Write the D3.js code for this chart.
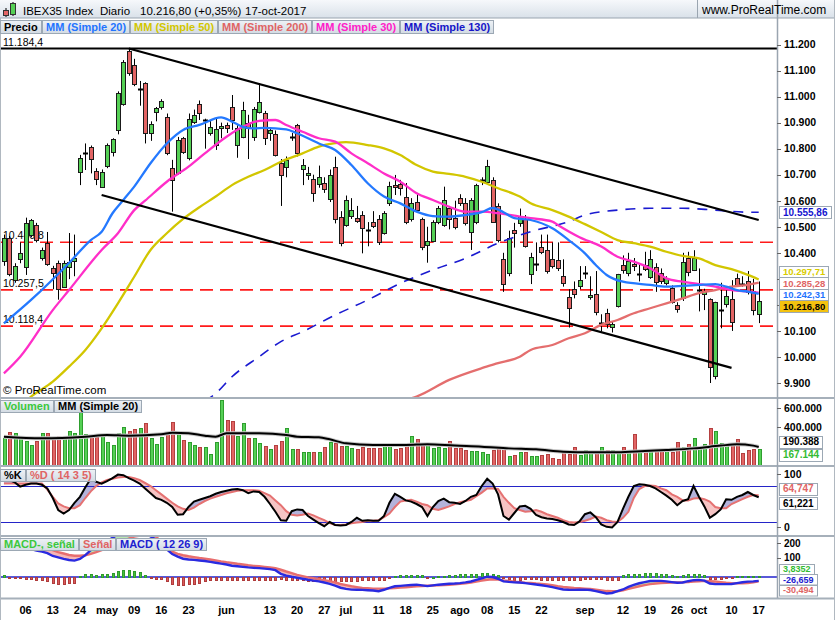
<!DOCTYPE html>
<html>
<head>
<meta charset="utf-8">
<script src="https://cdnjs.cloudflare.com/ajax/libs/d3/7.8.5/d3.min.js"></script>
<style>
html,body{margin:0;padding:0;background:#fff;}
svg{display:block;font-family:"Liberation Sans",Arial,Helvetica,sans-serif;}
</style>
</head>
<body>
<svg id="chart" width="835" height="620"></svg>
<script>
// ================= DATA =================
const firstDay = "2017-03-31", lastDay = "2017-10-17";
const holidays = ["2017-04-14", "2017-04-17", "2017-05-01"];
const anchorDay = "2017-04-06"; // day offset 0 for the sampled line series

const open = [
 10370,10455,10295,10375,10345,10470,10505,10380,10437,10343,10360,10268,10347,10370,
 10712,10780,10808,10715,10654,10733,10788,10872,10971,11176,
 11121,11029,11051,10859,10940,10959,10923,10725,10708,10840,
 10763,10904,10971,10905,10861,10814,10880,10891,10959,10814,
 10846,10900,10844,10942,10936,10860,10856,10746,10728,10842,
 10891,10721,10700,10682,10664,10670,10606,10731,10539,10507,
 10541,10534,10545,10490,10520,10529,10477,10590,10660,10664,
 10616,10529,10594,10529,10430,10447,10520,10507,10571,10533,
 10610,10590,10481,10520,10675,10673,10680,10578,10375,10324,
 10488,10515,10529,10318,10355,10421,10411,10375,10372,10311,
 10232,10260,10273,10322,10229,10241,10125,10170,10114,10196,
 10353,10324,10357,10319,10353,10308,10345,10324,10283,10264,
 10200,10225,10379,10334,10255,10240,10222,9927,10175,10204,
 10222,10302,10285,10293,10254,10165];
const high = [
 10470,10465,10360,10440,10535,10530,10515,10420,10480,10350,10370,10370,10476,10470,
 10776,10820,10812,10725,10720,10820,10840,11020,11140,11184.4,
 11145,11060,11055,10905,10960,10990,10935,10757,10845,10845,
 10935,10950,10985,10915,10910,10920,10900,10900,11006,10890,
 10980,10930,10960,11051,10945,10880,10870,10760,10770,10860,
 10895,10760,10730,10700,10735,10690,10720,10769,10560,10620,
 10610,10580,10560,10518,10560,10545,10560,10673,10699,10680,
 10668,10610,10630,10535,10500,10525,10580,10654,10580,10600,
 10625,10610,10610,10665,10690,10757,10690,10590,10400,10485,
 10515,10570,10545,10400,10440,10470,10470,10440,10440,10375,
 10260,10290,10349,10349,10310,10330,10164,10185,10135,10319,
 10390,10400,10380,10360,10404,10410,10360,10340,10310,10275,
 10210,10400,10404,10410,10340,10262,10225,10212,10285,10260,
 10295,10320,10310,10330,10300,10290];
const low = [
 10350,10310,10285,10360,10315,10460,10440,10370,10350,10260,10220,10265,10299,10310,
 10660,10718,10705,10660,10650,10725,10770,10855,10965,11080,
 11040,10965,10820,10830,10905,10950,10775,10558,10700,10780,
 10755,10895,10910,10800,10850,10795,10840,10860,10872,10765,
 10840,10760,10830,10935,10814,10830,10770,10580,10690,10830,
 10770,10660,10680,10596,10650,10630,10595,10513,10425,10500,
 10530,10515,10398,10425,10495,10430,10470,10580,10622,10620,
 10510,10520,10555,10410,10362,10440,10510,10500,10490,10490,
 10580,10505,10411,10510,10660,10665,10515,10440,10250,10310,
 10420,10500,10420,10280,10330,10395,10320,10340,10330,10270,
 10113,10225,10260,10300,10220,10160,10098,10110,10094,10190,
 10320,10310,10330,10290,10330,10300,10250,10280,10275,10205,
 10170,10215,10310,10330,10175,10180,9900,9914,10110,10190,
 10100,10270,10270,10240,10160,10130];
const close = [
 10455,10320,10350,10400,10515,10525,10450,10410,10357,10321,10260,10362,10366,10380,
 10763,10784,10759,10682,10712,10814,10836,11013,11134,11092,
 11047,11031,10859,10894,10955,10983,10782,10680,10833,10788,
 10913,10929,10936,10909,10882,10874,10886,10878,10910,10878,
 10948,10880,10951,10980,10840,10870,10776,10699,10756,10846,
 10782,10737,10708,10629,10692,10644,10699,10529,10439,10603,
 10565,10523,10494,10488,10503,10443,10554,10657,10652,10648,
 10520,10591,10564,10421,10446,10520,10571,10601,10530,10498,
 10590,10513,10603,10660,10678,10734,10520,10449,10280,10456,
 10477,10541,10426,10383,10358,10404,10331,10349,10340,10283,
 10187,10242,10296,10324,10238,10174,10130,10127,10127,10319,
 10334,10369,10349,10320,10337,10375,10289,10293,10302,10212,
 10183,10364,10328,10379,10256,10252,9960,10212,10180,10234,
 10135,10277,10280,10251,10181,10216.8];
// volume in thousands
const volume = [
 281,351,333,281,253,211,253,333,333,281,305,281,358,340,561,
 323,298,298,323,246,211,333,396,358,375,386,438,281,218,298,333,449,323,263,246,211,193,193,112,239,
 684,474,463,309,438,288,281,228,204,165,211,253,386,165,165,140,140,133,133,193,246,235,200,200,175,168,193,
 175,175,175,211,211,168,175,211,305,270,
 228,211,175,193,175,253,175,175,158,147,
 147,133,112,158,175,168,98,105,140,140,
 98,98,105,112,77,63,158,112,193,105,
 158,123,147,193,158,158,133,186,147,323,
 147,147,158,165,147,158,133,239,193,218,
 281,175,218,386,358,228,218,211,274,123,
 158,168,167.144];
// sampled lines: [day offset from anchorDay, value]
const volumeMA20 = [[-4,298],[3,281],[11,298],[15,316],[19,309],[25,323],[27,340],[30,333],[33,309],[35,298],[37,333],[43,333],[48,316],[50,298],[54,291],[56,270],[59,228],[64,211],[70,211],[74,218],[79,204],[84,193],[89,175],[94,165],[99,140],[104,133],[109,133],[114,147],[118,158],[123,175],[128,204],[131,218],[134,204],[135,190.388]];
const ma20 = [[-4,10129],[1,10219],[8,10361],[12,10449],[14,10481],[16,10552],[18,10603],[20,10654],[23,10744],[26,10820],[29,10872],[32,10891],[36,10920],[38,10904],[40,10884],[42,10878],[44,10880],[48,10874],[50,10859],[54,10820],[57,10795],[60,10737],[63,10667],[66,10616],[69,10590],[72,10558],[75,10541],[78,10539],[81,10545],[84,10556],[86,10572],[88,10556],[90,10533],[93,10526],[97,10494],[100,10449],[103,10398],[105,10353],[107,10315],[110,10289],[115,10277],[118,10270],[121,10273],[124,10277],[127,10280],[129,10270],[131,10257],[133,10251],[135,10242.31]];
const ma30 = [[-4,9937],[-1,10001],[5,10180],[8,10257],[14,10411],[17,10475],[20,10564],[22,10600],[26,10673],[30,10731],[33,10782],[37,10846],[40,10884],[43,10907],[46,10910],[48,10891],[51,10865],[54,10840],[57,10827],[60,10782],[63,10744],[66,10705],[69,10673],[72,10629],[75,10603],[78,10577],[81,10558],[84,10558],[87,10552],[91,10539],[93,10533],[97,10520],[98,10507],[102,10460],[106,10424],[109,10385],[112,10366],[115,10341],[118,10302],[121,10289],[124,10280],[127,10270],[130,10257],[133,10251],[135,10247]];
const ma50 = [[-4,9750],[1,9848],[5,9905],[8,9963],[11,10027],[14,10110],[17,10206],[20,10308],[23,10411],[26,10475],[29,10530],[32,10575],[35,10616],[38,10660],[41,10692],[44,10718],[47,10750],[51,10782],[54,10808],[57,10821],[59,10825],[63,10814],[66,10801],[69,10776],[72,10737],[75,10712],[78,10703],[81,10692],[84,10673],[87,10648],[91,10616],[93,10590],[97,10564],[100,10539],[103,10510],[106,10480],[109,10449],[112,10437],[115,10424],[118,10404],[121,10388],[124,10379],[127,10353],[130,10337],[133,10315],[135,10297.71]];
const ma200 = [[70,9835],[72,9848],[78,9912],[84,9957],[87,9976],[91,10001],[93,10027],[97,10046],[100,10072],[103,10091],[106,10123],[109,10142],[112,10168],[115,10187],[118,10206],[121,10225],[124,10245],[127,10257],[130,10270],[133,10277],[135,10285.28]];
const ma130 = [[33,9830],[35,9860],[38,9924],[43,10001],[47,10059],[51,10097],[57,10161],[63,10219],[69,10283],[75,10334],[81,10379],[87,10437],[93,10481],[100,10520],[103,10545],[109,10564],[115,10571],[121,10571],[127,10564],[133,10556],[135,10555.86]];
const stochK = [
 95,90,86,79,82,84,84,82,76,60,
 40,34,40,52,62,78,92,87,84,88,
 93,99,98,93,89,84,76,68,60,57,
 52,45,32,33,45,54,57,60,63,67,
 70,72,74,75,73,68,71,70,62,50,
 37,23,22,38,41,40,30,24,18,13,
 20,15,14,15,20,27,22,23,22,22,
 30,52,67,62,56,54,50,45,30,45,
 55,59,53,52,50,55,62,65,80,92,
 84,66,30,24,35,46,47,42,32,28,
 26,25,23,20,16,15,21,33,36,28,
 16,12,11,20,42,62,80,83,82,80,
 76,70,64,57,48,55,58,80,62,46,
 27,33,41,58,57,62,65,70,65,61.221];
const stochD = [
 84,84,84,84,84,84,84,84,74,62,
 51,46,43,43,48,60,71,80,86,90,
 92,94,95,95,93,90,85,80,73,66,
 59,52,46,42,40,44,50,55,59,62,
 65,68,70,72,73,73,73,72,68,64,
 56,48,38,32,31,32,34,31,27,23,
 18,15,15,16,18,19,20,22,22,23,
 28,34,45,54,56,57,54,50,48,42,
 40,43,46,50,53,55,57,63,69,76,
 76,75,62,52,43,40,37,38,40,37,
 33,30,27,23,20,19,20,22,25,29,
 27,23,21,20,27,37,60,75,80,81,
 80,76,73,66,62,56,56,59,60,58,
 54,45,43,43,50,54,58,62,65,64.747];
const macdLine = [
 228,210,204,200,196,192,183,175,165,145,
 135,125,117,113,124,151,185,210,230,250,
 270,295,318,330,328,318,300,280,258,225,
 190,158,140,126,121,118,114,110,104,98,
 92,86,78,74,70,66,63,61,58,54,
 47,22,10,2,-5,-12,-19,-25,-30,-38,
 -47,-60,-74,-82,-87,-88,-89,-91,-93,-98,
 -88,-75,-64,-61,-58,-55,-53,-58,-63,-58,
 -53,-50,-47,-45,-42,-37,-31,-20,-9,2,
 0,-12,-30,-34,-37,-38,-42,-47,-52,-57,
 -63,-70,-78,-86,-88,-89,-88,-87,-90,-97,
 -105,-114,-110,-98,-86,-68,-55,-43,-35,-28,
 -27,-27,-30,-35,-40,-38,-29,-22,-20,-25,
 -45,-49,-49,-49,-48,-42,-36,-32,-30,-26.659];
const macdSignal = [
 212,213,211,209,207,204,201,199,195,186,
 172,162,152,147,147,150,160,172,185,200,
 215,232,250,265,278,285,288,287,280,240,
 198,175,160,150,143,137,131,126,121,115,
 108,102,97,91,86,81,77,74,70,66,
 60,50,38,27,15,6,-3,-9,-15,-22,
 -29,-38,-48,-56,-64,-70,-76,-78,-80,-80,
 -80,-78,-76,-73,-71,-67,-64,-62,-60,-59,
 -58,-56,-53,-50,-47,-43,-38,-31,-24,-19,
 -16,-18,-24,-28,-33,-36,-39,-41,-45,-48,
 -52,-57,-63,-68,-72,-76,-78,-80,-83,-87,
 -92,-97,-98,-98,-92,-82,-73,-64,-56,-49,
 -45,-42,-40,-38,-37,-36,-34,-31,-29,-27,
 -29,-31,-35,-40,-43,-44,-43,-42,-36,-30.494];
const macdHist = [
 16,-5,-7,-9,-11,-11,-18,-24,-29,-40,
 -47,-47,-42,-40,5,18,18,13,18,18,
 27,38,49,49,42,33,11,-9,-13,-15,
 -29,-51,-56,-56,-51,-47,-40,-31,-24,-22,
 -20,-18,-20,-24,-22,-20,-22,-22,-20,-20,
 -20,-13,-24,-24,-22,-24,-27,-31,-31,-31,
 -31,-31,-31,-31,-31,-27,-22,-22,-24,-24,
 -20,-9,9,13,13,13,13,13,-3,2,
 9,9,13,13,18,18,20,24,29,31,
 24,13,-9,-15,-20,-18,-15,-13,-15,-18,
 -20,-20,-20,-22,-24,-22,-20,-13,-13,-15,
 -15,-20,-20,-20,13,18,22,24,29,29,
 29,24,20,13,9,13,18,20,18,13,
 -13,-15,-13,-9,-9,9,9,9,9,3.8352];

const supportLevels = [10440.8, 10257.5, 10118.4];
const topLevel = 11184.4;
const channel = [
  {d1: "2017-05-08", p1: 11184.4, d2: "2017-10-17", p2: 10526},
  {d1: "2017-04-28", p1: 10622, d2: "2017-10-10", p2: 9958}
];
const priceTicks = [9900,10000,10100,10200,10300,10400,10500,10600,10700,10800,10900,11000,11100,11200];
const volumeTicks = [400, 600];
const stochTicks = [0, 100];
const stochBands = [20, 80];
const macdTicks = [100, 200];
const tickDates = ["2017-04-06","2017-04-13","2017-04-24","2017-05-02","2017-05-09","2017-05-16","2017-05-23","2017-06-01","2017-06-13","2017-06-20","2017-06-27","2017-07-03","2017-07-11","2017-07-18","2017-07-25","2017-08-01","2017-08-08","2017-08-15","2017-08-22","2017-09-01","2017-09-12","2017-09-19","2017-09-26","2017-10-02","2017-10-10","2017-10-17"];
const tickLabels = ["06","13","24","may","09","16","23","jun","13","20","27","jul","11","18","25","ago","08","15","22","sep","12","19","26","oct","10","17"];
const headerTexts = ["IBEX35 Index", "Diario", "10.216,80 (+0,35%)", "17-oct-2017"];
const priceLegend = [["Precio","#000"],["MM (Simple 20)","#1f74ff"],["MM (Simple 50)","#d2c600"],["MM (Simple 200)","#e06464"],["MM (Simple 30)","#ff20c8"],["MM (Simple 130)","#1515c8"]];
const volLegend = [["Volumen","#3cc83c"],["MM (Simple 20)","#000"]];
const stochLegend = [["%K","#000"],["%D ( 14 3 5)","#e06464"]];
const macdLegend = [["MACD-, señal","#3cc83c"],["Señal","#e06464"],["MACD ( 12 26 9)","#2020d0"]];

// ================= BUILD =================
const dates = [];
{
  const d = new Date(firstDay + "T12:00:00Z"), end = new Date(lastDay + "T12:00:00Z");
  while (d <= end) {
    const s = d.toISOString().slice(0, 10), wd = d.getUTCDay();
    if (wd > 0 && wd < 6 && !holidays.includes(s)) dates.push(s);
    d.setUTCDate(d.getUTCDate() + 1);
  }
}
const k0 = dates.indexOf(anchorDay);
const bars = dates.map((d, k) => ({d, o: open[k], h: high[k], l: low[k], c: close[k], v: volume[k],
  K: stochK[k], D: stochD[k], m: macdLine[k], s: macdSignal[k], hist: macdHist[k]}));
const samp = arr => arr.map(([i, v]) => ({d: dates[k0 + i], v}));

const loc = d3.formatLocale({decimal: ",", thousands: ".", grouping: [3], currency: ["", ""], minus: "-"});
const f0 = loc.format(",.0f"), f1 = loc.format(",.1f"), f2 = loc.format(",.2f"), f3 = loc.format(",.3f"), f4 = loc.format(",.4f");

const W = 835, H = 620, AX = 777;
const P = {price: [18, 397], vol: [399, 465], sto: [467, 535], macd: [537, 598]};

const svg = d3.select("#chart");
const defs = svg.append("defs");
const hg = defs.append("linearGradient").attr("id", "hdr").attr("x1", 0).attr("x2", 0).attr("y1", 0).attr("y2", 1);
hg.append("stop").attr("offset", "0%").attr("stop-color", "#f6f8fb");
hg.append("stop").attr("offset", "100%").attr("stop-color", "#d9e1e9");
const lg = defs.append("linearGradient").attr("id", "leg").attr("x1", 0).attr("x2", 0).attr("y1", 0).attr("y2", 1);
lg.append("stop").attr("offset", "0%").attr("stop-color", "#eef2f6");
lg.append("stop").attr("offset", "100%").attr("stop-color", "#d3dbe3");
Object.entries(P).forEach(([k, [t, b]]) => {
  defs.append("clipPath").attr("id", "clip-" + k).append("rect").attr("x", 0).attr("y", t).attr("width", AX).attr("height", b - t);
});

svg.append("rect").attr("width", W).attr("height", H).attr("fill", "#fff");

const x = d3.scalePoint().domain(dates).range([3.9, 758.7]);
const cx = d => Math.round(x(d));
const yP = d3.scaleLinear().domain([9900, 11200]).range([383, 44.5]);
const yV = d3.scaleLinear().domain([0, 600]).range([465, 408]);
const yS = d3.scaleLinear().domain([0, 100]).range([534, 474]);
const yM = d3.scaleLinear().domain([0, 100]).range([577, 562.5]);

const GREEN = "#55d055", RED = "#e26464";

// ---------- PRICE PANE ----------
const gp = svg.append("g").attr("clip-path", "url(#clip-price)");
gp.selectAll("line.lvl").data(supportLevels).join("line")
  .attr("x1", 0).attr("x2", AX).attr("y1", d => yP(d)).attr("y2", d => yP(d))
  .attr("stroke", "#ff1a1a").attr("stroke-width", 1.6).attr("stroke-dasharray", "13,7");
gp.append("line").attr("x1", 0).attr("x2", AX).attr("y1", yP(topLevel)).attr("y2", yP(topLevel))
  .attr("stroke", "#000").attr("stroke-width", 2);
gp.selectAll("text.lvl").data(supportLevels.concat([topLevel])).join("text")
  .attr("x", 3).attr("y", d => yP(d) - 3).attr("font-size", 10.5).attr("fill", "#000").text(d => f1(d));

const cg = gp.append("g");
cg.selectAll("line.wick").data(bars).join("line")
  .attr("x1", d => cx(d.d) + 0.5).attr("x2", d => cx(d.d) + 0.5)
  .attr("y1", d => yP(d.h)).attr("y2", d => yP(d.l)).attr("stroke", "#000").attr("stroke-width", 1);
const bodies = bars.filter(b => Math.abs(b.c - b.o) >= 6);
const dojis = bars.filter(b => Math.abs(b.c - b.o) < 6);
cg.selectAll("rect.body").data(bodies).join("rect")
  .attr("x", d => cx(d.d) - 1.5).attr("width", 4)
  .attr("y", d => Math.round(yP(Math.max(d.o, d.c))) + 0.5)
  .attr("height", d => Math.max(1, Math.round(yP(Math.min(d.o, d.c))) - Math.round(yP(Math.max(d.o, d.c)))))
  .attr("fill", d => d.c >= d.o ? GREEN : RED).attr("stroke", "#1a1a1a").attr("stroke-width", 1);
cg.selectAll("line.doji").data(dojis).join("line")
  .attr("x1", d => cx(d.d) - 2).attr("x2", d => cx(d.d) + 3)
  .attr("y1", d => Math.round(yP(d.c)) + 0.5).attr("y2", d => Math.round(yP(d.c)) + 0.5)
  .attr("stroke", "#000").attr("stroke-width", 2);

const maLine = d3.line().x(d => x(d.d)).y(d => yP(d.v)).curve(d3.curveMonotoneX);
[[ma200, "#e46e6e", null], [ma130, "#1a1ad0", "10,8"], [ma50, "#d2c600", null], [ma30, "#ff2ec8", null], [ma20, "#2479ff", null]]
  .forEach(([s, c, dash]) => {
    gp.append("path").datum(samp(s)).attr("d", maLine).attr("fill", "none").attr("stroke", c)
      .attr("stroke-width", dash ? 1.6 : 2.3).attr("stroke-dasharray", dash);
  });
gp.selectAll("line.ch").data(channel).join("line")
  .attr("x1", d => x(d.d1)).attr("y1", d => yP(d.p1)).attr("x2", d => x(d.d2)).attr("y2", d => yP(d.p2))
  .attr("stroke", "#000").attr("stroke-width", 2.2);
gp.append("text").attr("x", 3).attr("y", 394).attr("font-size", 11.5).attr("fill", "#000").text("© ProRealTime.com");

// ---------- VOLUME PANE ----------
const gv = svg.append("g").attr("clip-path", "url(#clip-vol)");
gv.selectAll("rect").data(bars).join("rect")
  .attr("x", d => cx(d.d) - 0.5).attr("width", 3)
  .attr("y", d => Math.round(yV(d.v)) + 0.5).attr("height", d => 465 - Math.round(yV(d.v)))
  .attr("fill", d => d.c >= d.o ? GREEN : RED)
  .attr("stroke", d => d.c >= d.o ? "#2e9e2e" : "#b44040").attr("stroke-width", 1);
const volLine = d3.line().x(d => x(d.d)).y(d => yV(d.v)).curve(d3.curveMonotoneX);
gv.append("path").datum(samp(volumeMA20)).attr("d", volLine).attr("fill", "none").attr("stroke", "#c8c8c8").attr("stroke-width", 4);
gv.append("path").datum(samp(volumeMA20)).attr("d", volLine).attr("fill", "none").attr("stroke", "#000").attr("stroke-width", 2);

// ---------- STOCHASTIC PANE ----------
const gs = svg.append("g").attr("clip-path", "url(#clip-sto)");
const areaKD = d3.area().x(d => x(d.d)).y0(d => yS(d.D)).y1(d => yS(d.K));
defs.append("clipPath").attr("id", "belowK").append("path").datum(bars)
  .attr("d", d3.area().x(d => x(d.d)).y0(P.sto[1]).y1(d => yS(d.K)));
defs.append("clipPath").attr("id", "aboveK").append("path").datum(bars)
  .attr("d", d3.area().x(d => x(d.d)).y0(P.sto[0]).y1(d => yS(d.K)));
gs.append("path").datum(bars).attr("d", areaKD).attr("fill", "#b3b3db").attr("clip-path", "url(#belowK)");
gs.append("path").datum(bars).attr("d", areaKD).attr("fill", "#f6c4c4").attr("clip-path", "url(#aboveK)");
gs.selectAll("line.band").data(stochBands).join("line")
  .attr("x1", 0).attr("x2", AX).attr("y1", d => Math.round(yS(d)) + 0.5).attr("y2", d => Math.round(yS(d)) + 0.5)
  .attr("stroke", "#2424c8").attr("stroke-width", 1.2);
gs.append("path").datum(bars).attr("d", d3.line().x(d => x(d.d)).y(d => yS(d.D)))
  .attr("fill", "none").attr("stroke", "#e57272").attr("stroke-width", 2);
gs.append("path").datum(bars).attr("d", d3.line().x(d => x(d.d)).y(d => yS(d.K)))
  .attr("fill", "none").attr("stroke", "#000").attr("stroke-width", 2);

// ---------- MACD PANE ----------
const gm = svg.append("g").attr("clip-path", "url(#clip-macd)");
gm.append("line").attr("x1", 0).attr("x2", AX).attr("y1", yM(0)).attr("y2", yM(0)).attr("stroke", "#2222cc").attr("stroke-width", 1.6);
gm.selectAll("rect.h").data(bars).join("rect")
  .attr("x", d => cx(d.d) - 0.5).attr("width", 2)
  .attr("y", d => Math.round(Math.min(yM(d.hist), yM(0))) + 0.5)
  .attr("height", d => Math.max(1, Math.round(Math.abs(yM(d.hist) - yM(0)))))
  .attr("fill", d => d.hist >= 0 ? "#46c03c" : "#dc5a5a")
  .attr("stroke", d => d.hist >= 0 ? "#2e9a2e" : "#b03c3c").attr("stroke-width", 1);
const areaMS = d3.area().x(d => x(d.d)).y0(d => yM(d.s)).y1(d => yM(d.m));
defs.append("clipPath").attr("id", "belowM").append("path").datum(bars)
  .attr("d", d3.area().x(d => x(d.d)).y0(700).y1(d => yM(d.m)));
defs.append("clipPath").attr("id", "aboveM").append("path").datum(bars)
  .attr("d", d3.area().x(d => x(d.d)).y0(-100).y1(d => yM(d.m)));
gm.append("path").datum(bars).attr("d", areaMS).attr("fill", "#b9eab0").attr("clip-path", "url(#belowM)");
gm.append("path").datum(bars).attr("d", areaMS).attr("fill", "#f5b6b6").attr("clip-path", "url(#aboveM)");
gm.append("path").datum(bars).attr("d", d3.line().x(d => x(d.d)).y(d => yM(d.s)))
  .attr("fill", "none").attr("stroke", "#e86e6e").attr("stroke-width", 2.4);
gm.append("path").datum(bars).attr("d", d3.line().x(d => x(d.d)).y(d => yM(d.m)))
  .attr("fill", "none").attr("stroke", "#2a2ae0").attr("stroke-width", 2.4);

// ---------- FRAME ----------
svg.append("rect").attr("x", 0).attr("y", 0).attr("width", W).attr("height", 18).attr("fill", "url(#hdr)");
svg.append("line").attr("x1", 0).attr("x2", W).attr("y1", 18).attr("y2", 18).attr("stroke", "#9aa5b0");
[P.price[1] + 1, P.vol[1] + 1, P.sto[1] + 1, P.macd[1] + 0.5].forEach(y =>
  svg.append("line").attr("x1", 0).attr("x2", W).attr("y1", y).attr("y2", y).attr("stroke", "#a6b0ba").attr("stroke-width", 2));
svg.append("line").attr("x1", AX + 0.5).attr("x2", AX + 0.5).attr("y1", 0).attr("y2", 598).attr("stroke", "#9aa5b0").attr("stroke-width", 1.5);
svg.append("line").attr("x1", 0.5).attr("x2", 0.5).attr("y1", 18).attr("y2", 620).attr("stroke", "#b0b8c0");
svg.append("line").attr("x1", W - 0.5).attr("x2", W - 0.5).attr("y1", 0).attr("y2", 620).attr("stroke", "#b0b8c0");

const ic = svg.append("g");
ic.append("line").attr("x1", 6).attr("x2", 6).attr("y1", 8).attr("y2", 17).attr("stroke", "#000");
ic.append("rect").attr("x", 3.5).attr("y", 10.5).attr("width", 5).attr("height", 5).attr("fill", RED).attr("stroke", "#333");
ic.append("line").attr("x1", 13).attr("x2", 13).attr("y1", 2).attr("y2", 16).attr("stroke", "#000");
ic.append("rect").attr("x", 10.5).attr("y", 3.5).attr("width", 5).attr("height", 11).attr("fill", GREEN).attr("stroke", "#333");
[23, 100, 140, 245].forEach((hx, j) =>
  svg.append("text").attr("x", hx).attr("y", 14.5).attr("font-size", 11.5).attr("fill", "#000").text(headerTexts[j]));
svg.append("line").attr("x1", 697.5).attr("x2", 697.5).attr("y1", 0).attr("y2", 18).attr("stroke", "#9aa5b0");
svg.append("text").attr("x", 702).attr("y", 13.5).attr("font-size", 12).attr("fill", "#000").text("www.ProRealTime.com");

function legend(y, items, h) {
  let lx = 0.5;
  items.forEach(([t, c]) => {
    const g = svg.append("g");
    const r = g.append("rect").attr("x", lx).attr("y", y + 0.5).attr("height", h).attr("fill", "url(#leg)").attr("stroke", "#9ca8b4");
    const tx = g.append("text").attr("x", lx + 3.5).attr("y", y + h - 2).attr("font-size", 11).attr("font-weight", "bold").attr("fill", c).text(t);
    const w = Math.round(tx.node().getComputedTextLength() + 7);
    r.attr("width", w);
    lx += w + 1;
  });
}
legend(20, priceLegend, 13);
legend(400, volLegend, 12);
legend(469, stochLegend, 12);
legend(538, macdLegend, 12);

// ---------- RIGHT AXES & LAST-VALUE BOXES ----------
const boxGroups = [];
function layoutBoxes(items, spacing, boxH, fs) {
  items.sort((a, b) => a.y - b.y);
  for (let it = 0; it < 200; it++) {
    for (let j = 1; j < items.length; j++) {
      const gap = items[j].y - items[j - 1].y;
      if (gap < spacing) { const dd = (spacing - gap) / 2; items[j].y += dd; items[j - 1].y -= dd; }
    }
  }
  items.forEach(it => { it.boxH = boxH; it.fs = fs; });
  boxGroups.push(...items);
}
const lastV = a => a[a.length - 1][1];
layoutBoxes([{y: yP(lastV(ma130)), t: f2(lastV(ma130)), c: "#1515d0"}], 10, 12, 10);
layoutBoxes([
  {y: yP(lastV(ma50)), t: f2(lastV(ma50)), c: "#d8cc00"},
  {y: yP(lastV(ma200)), t: f2(lastV(ma200)), c: "#e06464"},
  {y: yP(lastV(ma20)), t: f2(lastV(ma20)), c: "#1f74ff"},
  {y: yP(close[close.length - 1]), t: f2(close[close.length - 1]), c: "#000", fill: "#f4c20f"}
], 11.5, 12, 9.5);
layoutBoxes([
  {y: yV(lastV(volumeMA20)), t: f0(lastV(volumeMA20) * 1000), c: "#000"},
  {y: yV(volume[volume.length - 1]), t: f0(volume[volume.length - 1] * 1000), c: "#33bb33"}
], 13, 12, 10);
layoutBoxes([
  {y: yS(stochD[stochD.length - 1]), t: f3(stochD[stochD.length - 1]), c: "#e06464"},
  {y: yS(stochK[stochK.length - 1]), t: f3(stochK[stochK.length - 1]), c: "#000"}
], 14.5, 12, 10);
layoutBoxes([
  {y: yM(macdHist[macdHist.length - 1]), t: f4(macdHist[macdHist.length - 1]), c: "#33bb33"},
  {y: yM(macdLine[macdLine.length - 1]), t: f3(macdLine[macdLine.length - 1]), c: "#2020d0"},
  {y: yM(macdSignal[macdSignal.length - 1]), t: f3(macdSignal[macdSignal.length - 1]), c: "#e06464"}
], 10.5, 10.5, 9);

const axG = svg.append("g").attr("font-weight", "bold").attr("font-size", 10.5).attr("fill", "#000");
function ticks(vals, sc, fmt, fs) {
  vals.forEach(v => {
    const yy = sc(v);
    axG.append("line").attr("x1", AX).attr("x2", AX + 4).attr("y1", Math.round(yy) + 0.5).attr("y2", Math.round(yy) + 0.5).attr("stroke", "#666");
    const covered = boxGroups.some(b => Math.abs(b.y - yy) < b.boxH / 2 + 2);
    if (!covered) axG.append("text").attr("x", 784).attr("y", yy).attr("dy", "0.36em").attr("font-size", fs || 10.5).text(fmt(v));
  });
}
ticks(priceTicks, yP, f0);
ticks(volumeTicks, v => yV(v), v => f0(v * 1000));
ticks(stochTicks, v => v === 0 ? 527 : yS(v), f0);
ticks(macdTicks, v => yM(v) - 5, f0, 10);

boxGroups.forEach(it => {
  const g = svg.append("g");
  const r = g.append("rect").attr("x", 779.5).attr("y", Math.round(it.y - it.boxH / 2) + 0.5).attr("height", it.boxH)
    .attr("fill", it.fill || "#fff").attr("stroke", "#9ca8b4");
  const t = g.append("text").attr("x", 783).attr("y", it.y).attr("dy", "0.35em").attr("font-size", it.fs)
    .attr("font-weight", "bold").attr("fill", it.c).text(it.t);
  r.attr("width", Math.round(t.node().getComputedTextLength() + 7));
});

svg.append("g").selectAll("text").data(tickDates).join("text")
  .attr("x", d => x(d)).attr("y", 614).attr("text-anchor", "middle")
  .attr("font-size", 11).attr("font-weight", "bold").attr("fill", "#000")
  .text((d, j) => tickLabels[j]);
</script>
</body>
</html>
